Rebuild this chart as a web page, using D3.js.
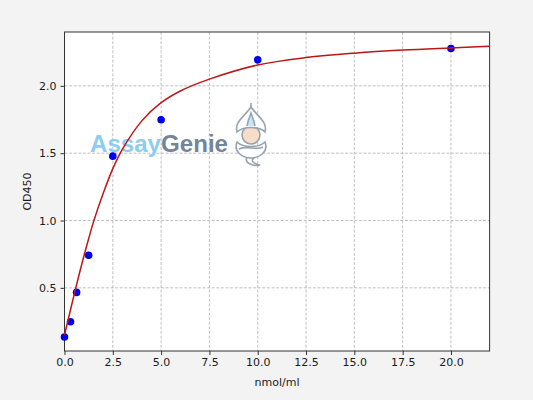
<!DOCTYPE html>
<html>
<head>
<meta charset="utf-8">
<script src="https://cdn.jsdelivr.net/npm/d3@7"></script>
<style>
  html, body { margin: 0; padding: 0; background: #f3f3f3; }
  svg { display: block; }
  text { font-family: "DejaVu Sans", sans-serif; fill: #1a1a1a; }
</style>
</head>
<body>
<svg width="533" height="400"></svg>
<script>
// standard concentrations (nmol/ml) and measured OD450
const conc = [0, 0.3125, 0.625, 1.25, 2.5, 5, 10, 20];
const od = [0.135, 0.248, 0.466, 0.742, 1.478, 1.748, 2.193, 2.277];

// fitted curve
const fitX = [0, 0.25, 0.5, 0.75, 1, 1.25, 1.5, 2, 2.5, 3, 4, 5, 6, 7.5, 10, 12.5, 15, 17.5, 20, 22];
const fitY = [0.15, 0.30, 0.45, 0.595, 0.735, 0.865, 0.99, 1.20, 1.385, 1.53, 1.74, 1.875, 1.962, 2.05, 2.155, 2.21, 2.243, 2.266, 2.282, 2.294];

const xTicks = [0, 2.5, 5, 7.5, 10, 12.5, 15, 17.5, 20];
const yTicks = [0.5, 1.0, 1.5, 2.0];

const svg = d3.select('svg');
const m = { left: 64.5, right: 489.6, top: 32, bottom: 351 };

const x = d3.scaleLinear().domain([0, 22]).range([m.left, m.right]);
const y = d3.scaleLinear().domain([0.031, 2.4]).range([m.bottom, m.top]);

// plot area
svg.append('rect')
    .attr('x', m.left).attr('y', m.top)
    .attr('width', m.right - m.left).attr('height', m.bottom - m.top)
    .attr('fill', '#fff');

// grid
const grid = svg.append('g')
    .attr('stroke', '#b0b0b0')
    .attr('stroke-width', 0.8)
    .attr('stroke-dasharray', '3,1.6');
grid.selectAll('.vx').data(xTicks).enter().append('line')
    .attr('x1', d => x(d)).attr('x2', d => x(d))
    .attr('y1', m.top).attr('y2', m.bottom);
grid.selectAll('.hy').data(yTicks).enter().append('line')
    .attr('y1', d => y(d)).attr('y2', d => y(d))
    .attr('x1', m.left).attr('x2', m.right);

// watermark
const wm = svg.append('g');
wm.append('text')
    .attr('x', 90).attr('y', 152)
    .style('font-family', '"Liberation Sans", Arial, sans-serif')
    .style('font-weight', 'bold')
    .style('font-size', '23.5px')
    .attr('textLength', 138)
    .attr('lengthAdjust', 'spacingAndGlyphs')
    .html('<tspan style="fill:#8ecdf0">Assay</tspan><tspan style="fill:#74859a">Genie</tspan>');
const genie = wm.append('g').attr('transform', 'translate(251,132)')
    .attr('stroke', '#97a3b0').attr('stroke-width', 1.6).attr('fill', '#fff');
// tail
genie.append('path').attr('d', 'M-3,24 C-9,30 2,35 9,33 C3,32 -1,29 3,26').attr('fill', 'none');
// arms
genie.append('path').attr('d', 'M-14,10 C-18,20 -8,26 0,26 C8,26 18,20 14,10 C8,16 -8,16 -14,10 Z');
genie.append('path').attr('d', 'M-12,17 C-4,13 6,19 12,15').attr('fill', 'none');
// face
genie.append('circle').attr('cx', 0).attr('cy', 3).attr('r', 9)
    .attr('fill', '#f7ddc8');
// turban
genie.append('path').attr('d', 'M-14,0 C-17,-10 -6,-16 0,-25 C6,-16 17,-10 14,0 C8,-6 -8,-6 -14,0 Z');
genie.append('path').attr('d', 'M0,-25 L0,-29').attr('fill', 'none');
genie.append('path').attr('d', 'M-4,-6 C-3,-12 -1,-16 0,-19 C1,-16 3,-12 4,-6').attr('fill', '#c6e6f6');

// spines
svg.append('rect')
    .attr('x', m.left).attr('y', m.top)
    .attr('width', m.right - m.left).attr('height', m.bottom - m.top)
    .attr('fill', 'none').attr('stroke', '#333').attr('stroke-width', 1);

// axes
const fmt = d3.format('.1f');
const xAxis = svg.append('g')
    .attr('transform', `translate(0,${m.bottom})`)
    .call(d3.axisBottom(x).tickValues(xTicks).tickFormat(fmt).tickSize(4).tickPadding(3));
const yAxis = svg.append('g')
    .attr('transform', `translate(${m.left},0)`)
    .call(d3.axisLeft(y).tickValues(yTicks).tickFormat(fmt).tickSize(4).tickPadding(4));
[xAxis, yAxis].forEach(a => {
    a.select('.domain').remove();
    a.selectAll('line').attr('stroke', '#333');
    a.selectAll('text').style('font-family', '"DejaVu Sans", sans-serif')
        .style('font-size', '11px').attr('fill', '#1a1a1a');
});

// points
svg.append('g').selectAll('circle')
    .data(conc.map((c, i) => [c, od[i]]))
    .enter().append('circle')
    .attr('cx', d => x(d[0])).attr('cy', d => y(d[1]))
    .attr('r', 3.8)
    .attr('fill', '#0000f0');

// fit line
const line = d3.line()
    .x(d => x(d[0])).y(d => y(d[1]))
    .curve(d3.curveCatmullRom.alpha(0.5));
svg.append('path')
    .datum(fitX.map((v, i) => [v, fitY[i]]))
    .attr('d', line)
    .attr('fill', 'none')
    .attr('stroke', '#c01515')
    .attr('stroke-width', 1.5);

// labels
svg.append('text')
    .attr('x', (m.left + m.right) / 2).attr('y', 386)
    .attr('text-anchor', 'middle')
    .style('font-size', '11px')
    .text('nmol/ml');
svg.append('text')
    .attr('transform', `translate(30.5,${(m.top + m.bottom) / 2}) rotate(-90)`)
    .attr('text-anchor', 'middle')
    .style('font-size', '11px')
    .text('OD450');
</script>
</body>
</html>
